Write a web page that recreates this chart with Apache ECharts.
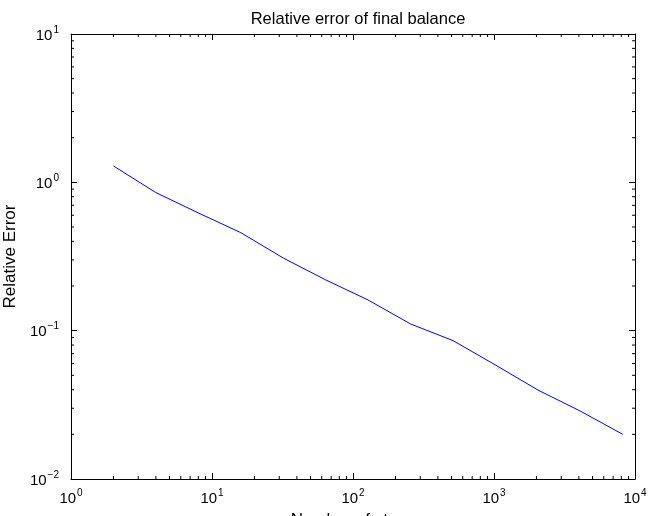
<!DOCTYPE html>
<html>
<head>
<meta charset="utf-8">
<script src="https://cdn.jsdelivr.net/npm/echarts@6/dist/echarts.min.js"></script>
<style>
html,body{margin:0;padding:0;background:#fff;}
#chart{width:651px;height:516px;}
</style>
</head>
<body>
<div id="chart"></div>
<script>
// Number of steps (x) and relative error (y)
var steps = [2, 4, 8, 16, 32, 64, 128, 256, 512, 1024, 2048, 4096, 8192];
var relErr = [1.29, 0.853, 0.622, 0.458, 0.309, 0.22, 0.161, 0.111, 0.0857, 0.0587, 0.0398, 0.0287, 0.0200];

var titleText = 'Relative error of final balance';
var xName = 'Number of steps';
var yName = 'Relative Error';
var xRange = [1, 10000];
var yRange = [0.01, 10];

// minor tick positions (2..9 within each decade)
function minorValues(lo, hi) {
  var out = [];
  for (var d = lo; d < hi; d *= 10) {
    for (var m = 2; m <= 9; m++) out.push(m * d);
  }
  return out;
}
var xMinor = minorValues(xRange[0], xRange[1]);
var yMinor = minorValues(yRange[0], yRange[1]);

var FONT = 'Liberation Sans, Arial, Helvetica, sans-serif';
function sup(v) {
  var e = Math.round(Math.log10(v));
  var es = e < 0 ? '\u2212' + (-e) : '' + e;
  return '{b|10}{s|' + es + '}';
}
var richLab = {
  b: {fontSize: 15, fontFamily: FONT, color: '#000', lineHeight: 18, verticalAlign: 'bottom'},
  s: {fontSize: 10, fontFamily: FONT, color: '#000', lineHeight: 8, verticalAlign: 'top', padding: [0, 0, 0, 1]}
};
var axisLineStyle = {show: true, lineStyle: {color: '#000', width: 1}};
var tickStyle = {show: true, inside: true, length: 6, lineStyle: {color: '#000', width: 1}};

var chart = echarts.init(document.getElementById('chart'), null, {renderer: 'canvas'});
var option = {
  animation: false,
  backgroundColor: '#fff',
  title: {
    text: titleText,
    left: 353, top: 6, textAlign: 'center',
    textStyle: {fontSize: 16.5, fontWeight: 'normal', color: '#000', fontFamily: FONT}
  },
  grid: {left: 71, right: 16, top: 34, bottom: 37, containLabel: false, outerBoundsMode: 'none'},
  xAxis: [{
    type: 'log', logBase: 10, min: xRange[0], max: xRange[1], position: 'bottom',
    splitNumber: 4,
    name: xName, nameLocation: 'middle', nameGap: 33,
    nameTextStyle: {fontSize: 17, color: '#000', fontFamily: FONT},
    axisLine: axisLineStyle, axisTick: tickStyle,
    splitLine: {show: false}, minorTick: {show: false},
    axisLabel: {show: true, margin: 9, formatter: sup, rich: richLab, showMinLabel: true, showMaxLabel: true, hideOverlap: false}
  }, {
    type: 'log', logBase: 10, min: xRange[0], max: xRange[1], position: 'top',
    splitNumber: 4,
    axisLine: axisLineStyle, axisTick: tickStyle,
    splitLine: {show: false}, axisLabel: {show: false}
  }],
  yAxis: [{
    type: 'log', logBase: 10, min: yRange[0], max: yRange[1], position: 'left',
    splitNumber: 3,
    name: yName, nameLocation: 'middle', nameGap: 46,
    nameTextStyle: {fontSize: 17, color: '#000', fontFamily: FONT},
    axisLine: axisLineStyle, axisTick: tickStyle,
    splitLine: {show: false},
    axisLabel: {show: true, margin: 12, formatter: sup, rich: richLab, showMinLabel: true, showMaxLabel: true, hideOverlap: false}
  }, {
    type: 'log', logBase: 10, min: yRange[0], max: yRange[1], position: 'right',
    splitNumber: 3,
    axisLine: axisLineStyle, axisTick: tickStyle,
    splitLine: {show: false}, axisLabel: {show: false}
  }],
  series: [{
    type: 'line', xAxisIndex: 0, yAxisIndex: 0,
    data: steps.map(function (s, i) { return [s, relErr[i]]; }),
    showSymbol: false, symbol: 'none',
    lineStyle: {color: '#0000ff', width: 1},
    z: 5
  }, {
    type: 'custom', xAxisIndex: 0, yAxisIndex: 0, silent: true,
    data: xMinor.map(function (v) { return [v, 1]; }),
    renderItem: function (params, api) {
      var v = api.value(0);
      var pb = api.coord([v, yRange[0]]);
      var pt = api.coord([v, yRange[1]]);
      var L = 3;
      return {type: 'group', children: [
        {type: 'line', shape: {x1: pb[0], y1: pb[1], x2: pb[0], y2: pb[1] - L}, style: {stroke: '#000', lineWidth: 1}},
        {type: 'line', shape: {x1: pt[0], y1: pt[1], x2: pt[0], y2: pt[1] + L}, style: {stroke: '#000', lineWidth: 1}}
      ]};
    }
  }, {
    type: 'custom', xAxisIndex: 0, yAxisIndex: 0, silent: true,
    data: yMinor.map(function (v) { return [10, v]; }),
    renderItem: function (params, api) {
      var v = api.value(1);
      var pl = api.coord([xRange[0], v]);
      var pr = api.coord([xRange[1], v]);
      var L = 3;
      return {type: 'group', children: [
        {type: 'line', shape: {x1: pl[0], y1: pl[1], x2: pl[0] + L, y2: pl[1]}, style: {stroke: '#000', lineWidth: 1}},
        {type: 'line', shape: {x1: pr[0], y1: pr[1], x2: pr[0] - L, y2: pr[1]}, style: {stroke: '#000', lineWidth: 1}}
      ]};
    }
  }]
};
chart.setOption(option);
</script>
</body>
</html>
